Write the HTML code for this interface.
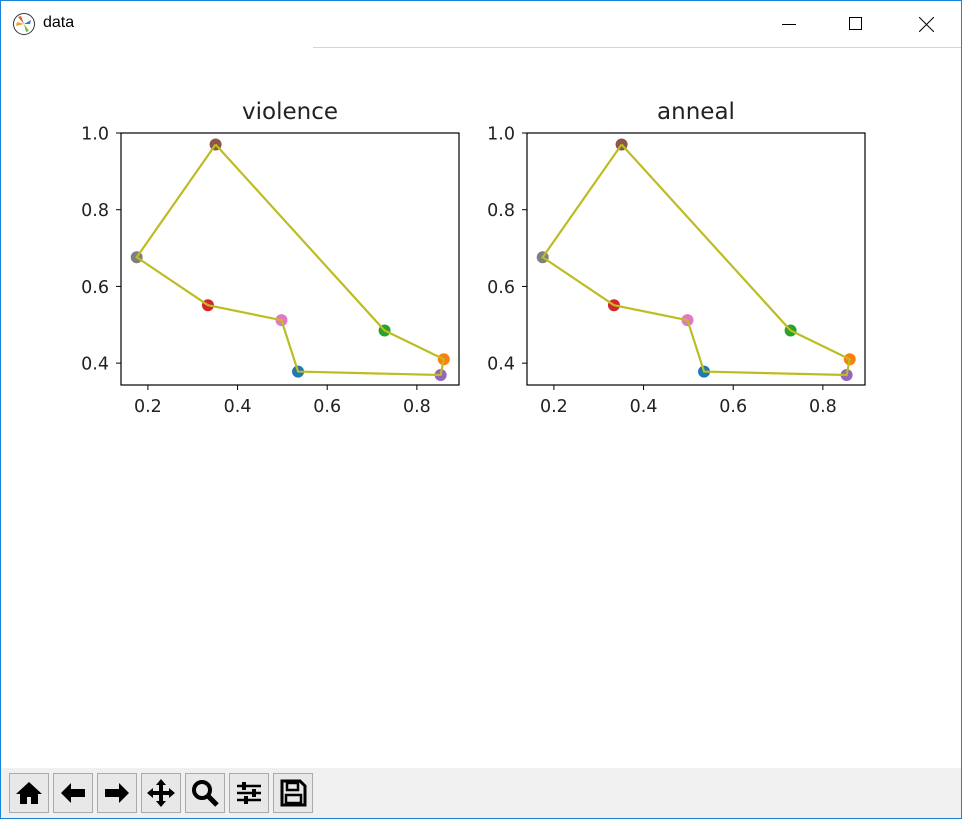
<!DOCTYPE html>
<html><head><meta charset="utf-8"><style>
body{margin:0;width:962px;height:819px;overflow:hidden;background:#fff;font-family:"Liberation Sans","DejaVu Sans",sans-serif;}
#win{position:absolute;left:0;top:0;width:960px;height:817px;border:1px solid #1883d7;background:#fff;}
.tb{position:absolute;top:767px;left:0;width:960px;height:50px;background:#f0f0f0;}
.btn{position:absolute;top:5px;width:40px;height:40px;border:1px solid #aaa;background:#e8e8e8;box-sizing:border-box;display:flex;align-items:center;justify-content:center;}
</style></head><body>
<div id="win">
<div style="position:absolute;left:0;top:0;width:960px;height:46px;">
 <svg style="position:absolute;left:11px;top:11px" width="24" height="24"><circle cx="12" cy="12" r="10.5" fill="#fff" stroke="#333"/><path d="M12 12 L6 5 L9 4Z" fill="#e8552b"/><path d="M12 12 L4 14 L5 10Z" fill="#f0a020"/><path d="M12 12 L17 19 L14 20Z" fill="#7ab648"/><path d="M12 12 L19 8 L18 12Z" fill="#3a78c0"/></svg>
 <span style="position:absolute;left:42px;top:13px;font-size:16px;color:#000">data</span>
 <span style="position:absolute;left:781px;top:23px;width:14px;height:1px;background:#000"></span>
 <span style="position:absolute;left:848px;top:16px;width:13px;height:13px;border:1px solid #000;box-sizing:border-box"></span>
 <svg style="position:absolute;left:918px;top:16px" width="15" height="15"><path d="M0 0L15 15M15 0L0 15" stroke="#000" stroke-width="1"/></svg>
 <div style="position:absolute;left:312px;top:46px;width:648px;height:1px;background:#d4d4d4"></div>
</div>
<svg id="fig" style="position:absolute;left:-1px;top:-1px" width="962" height="819"></svg>
<div class="tb">
 <div class="btn" style="left:8px"><svg width="30" height="30"><path d="M15 4L2 16h4v10h7v-7h4v7h7V16h4z" fill="#000"/></svg></div>
 <div class="btn" style="left:52px"><svg width="30" height="30"><path d="M3 15L13 5v6h14v8H13v6z" fill="#000"/></svg></div>
 <div class="btn" style="left:96px"><svg width="30" height="30"><path d="M27 15L17 5v6H3v8h14v6z" fill="#000"/></svg></div>
 <div class="btn" style="left:140px"><svg width="30" height="30"><path d="M15 1l5 6h-3v6h6v-3l6 5-6 5v-3h-6v6h3l-5 6-5-6h3v-6H7v3l-6-5 6-5v3h6V7h-3z" fill="#000"/></svg></div>
 <div class="btn" style="left:184px"><svg width="30" height="30"><circle cx="12" cy="12" r="8" fill="none" stroke="#000" stroke-width="4"/><path d="M18 18l9 9" stroke="#000" stroke-width="5"/></svg></div>
 <div class="btn" style="left:228px"><svg width="30" height="30"><path d="M3 8h24M3 15h24M3 22h24" stroke="#000" stroke-width="2.5"/><rect x="8" y="4" width="4" height="8" fill="#000"/><rect x="18" y="11" width="4" height="8" fill="#000"/><rect x="10" y="18" width="4" height="8" fill="#000"/></svg></div>
 <div class="btn" style="left:272px"><svg width="30" height="30"><path d="M4 3h18l5 5v19H4z" fill="none" stroke="#000" stroke-width="3"/><rect x="9" y="5" width="11" height="7" fill="none" stroke="#000" stroke-width="2.5"/><rect x="8" y="17" width="15" height="8" fill="none" stroke="#000" stroke-width="2.5"/></svg></div>
</div>
</div>
<script>
const titles=["violence","anneal"];
const xs=[0.535,0.860,0.728,0.334,0.853,0.351,0.498,0.175];
const ys=[0.378,0.410,0.485,0.551,0.369,0.970,0.512,0.676];
const pathOrder=[5,2,1,4,0,6,3,7,5];
const colors=["#1f77b4","#ff7f0e","#2ca02c","#d62728","#9467bd","#8c564b","#e377c2","#7f7f7f"];
const xTicks=[0.2,0.4,0.6,0.8];
const yTicks=[0.4,0.6,0.8,1.0];
const NS="http://www.w3.org/2000/svg";
const svg=document.getElementById('fig');
function mk(t,a){const e=document.createElementNS(NS,t);for(const k in a)e.setAttribute(k,a[k]);svg.appendChild(e);return e;}
const offsets=[0,406];
const X0=0.140,X1=0.894,Y0=0.343,Y1=1.0;
offsets.forEach((off,i)=>{
 const L=121+off,R=459+off,T=133,B=385;
 const sx=v=>L+(v-X0)/(X1-X0)*(R-L);
 const sy=v=>B-(v-Y0)/(Y1-Y0)*(B-T);
 const tt=mk('text',{x:(L+R)/2,y:119,'text-anchor':'middle','font-size':'23','fill':'#222','font-family':'DejaVu Sans, sans-serif'});
 tt.textContent=titles[i];
 
 
 const pts=pathOrder.map(k=>sx(xs[k])+','+sy(ys[k])).join(' ');
 const pl=mk('polyline',{points:pts,fill:'none',stroke:'#bcbd22','stroke-width':'2.2'});
 
 
 xs.forEach((x,k)=>{
  const c=mk('circle',{cx:sx(x),cy:sy(ys[k]),r:6,fill:colors[k]});
  
  
 });
 svg.appendChild(pl);
 const box=mk('rect',{x:L,y:T,width:R-L,height:B-T,fill:'none',stroke:'#000','stroke-width':'1.2'});
 
 
 xTicks.forEach(v=>{
  mk('line',{x1:sx(v),x2:sx(v),y1:B,y2:B+5,stroke:'#000'});
  const t=mk('text',{x:sx(v),y:B+27,'text-anchor':'middle','font-size':'17.5','fill':'#222','font-family':'DejaVu Sans, sans-serif'});
  t.textContent=v.toFixed(1);
  
  
 });
 yTicks.forEach(v=>{
  mk('line',{x1:L-5,x2:L,y1:sy(v),y2:sy(v),stroke:'#000'});
  const t=mk('text',{x:L-12,y:sy(v)+6.5,'text-anchor':'end','font-size':'17.5','fill':'#222','font-family':'DejaVu Sans, sans-serif'});
  t.textContent=v.toFixed(1);
  
  
 });
});
</script>
</body></html>
